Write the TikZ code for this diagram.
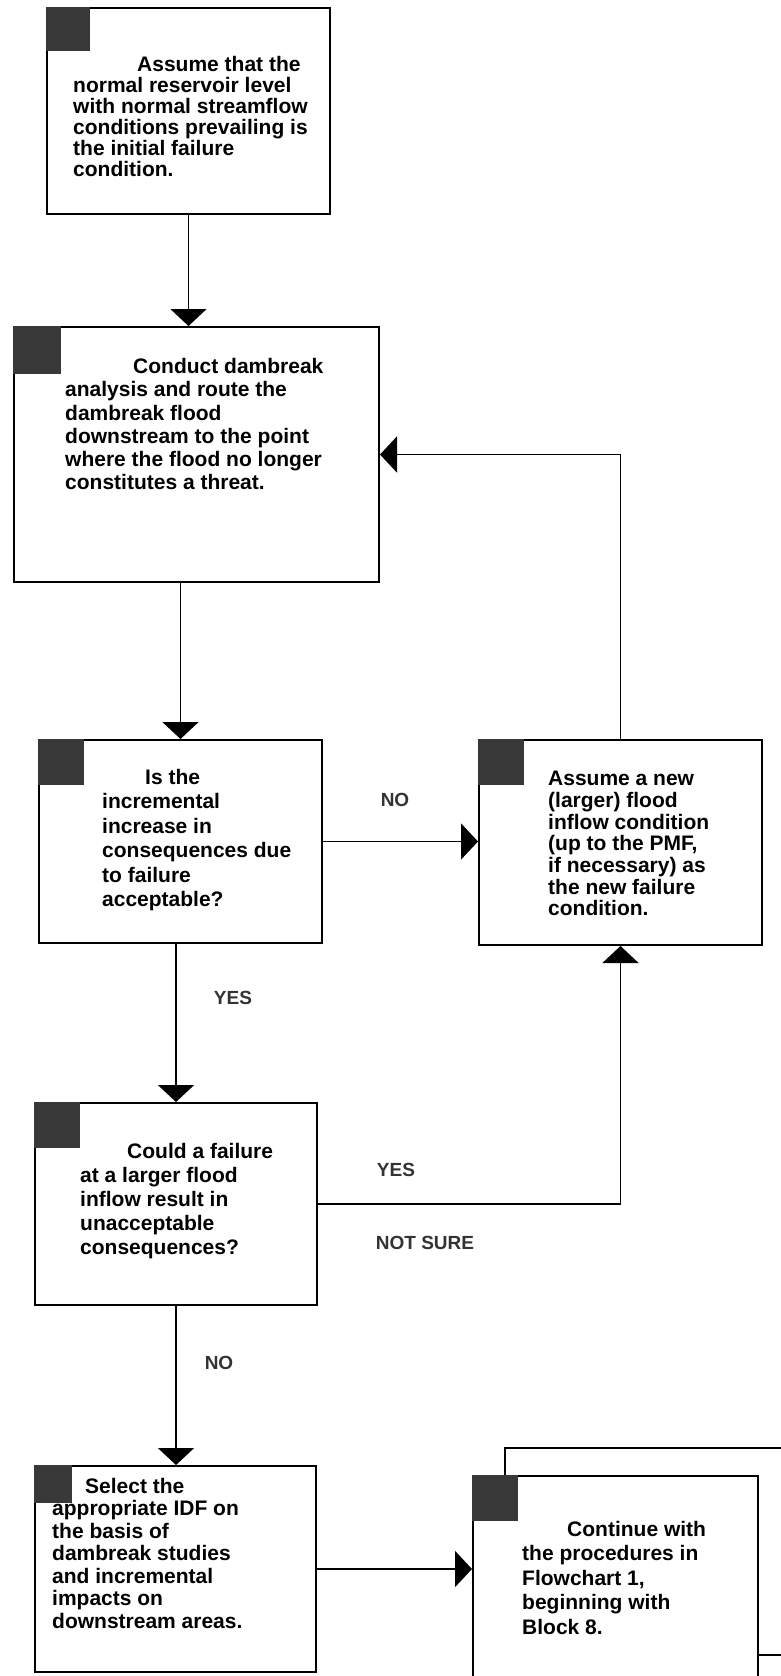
\documentclass[tikz,border=0pt]{standalone}
\usepackage{fontspec}
\setmainfont{Liberation Sans}
\usetikzlibrary{arrows.meta}

\begin{document}
\begin{tikzpicture}[x=1pt, y=-1pt,
		box/.style={draw, line width=2pt, fill=white, inner sep=0pt},
		icon/.style={fill=black!78, inner sep=0pt, minimum size=46pt, anchor=north west},
		txt/.style={anchor=north west, align=left, inner sep=0pt, font=\fontsize{21}{#1}\selectfont\bfseries},
		txt/.default=23,
		lbl/.style={inner sep=0pt, text=black!80, font=\fontsize{19}{22}\selectfont\bfseries},
		arr/.style={line width=1.8pt, -{Triangle[width=36pt, length=17pt]}}]
		\useasboundingbox (0,0) rectangle (781,1676);
		\clip (0,0) rectangle (781,1676);

		\node[box, minimum width=283pt, minimum height=206pt] (b1) at (188.5, 111) {};
		\node[box, minimum width=365pt, minimum height=255pt] (b2) at (196.5, 454.5) {};
		\node[box, minimum width=283pt, minimum height=203pt] (b3) at (180.5, 841.5) {};
		\node[box, minimum width=283pt, minimum height=205pt] (b4) at (620.5, 842.5) {};
		\node[box, minimum width=282pt, minimum height=202pt] (b5) at (176, 1204) {};
		\node[box, minimum width=281pt, minimum height=206pt] (b6) at (175.5, 1569) {};
		\node[box, minimum width=325pt, minimum height=207pt] (b7back) at (667.5, 1551.5) {};
		\node[box, minimum width=285pt, minimum height=244pt] (b7) at (615.5, 1598) {};

		\node[icon, minimum size=44pt] (i1) at (b1.north west) {};
		\node[icon, minimum size=48pt] (i2) at (b2.north west) {};
		\node[icon] (i3) at (b3.north west) {};
		\node[icon] (i4) at (b4.north west) {};
		\node[icon] (i5) at (b5.north west) {};
		\node[icon, minimum size=38pt] (i6) at (b6.north west) {};
		\node[icon] (i7) at (b7.north west) {};

		\node[txt=21] (t1) at (73, 56) {\hspace*{64pt}Assume that the\\normal reservoir level\\with normal streamflow\\conditions prevailing is\\the initial failure\\condition.};
		\node[txt=23.3] (t2) at (65, 358) {\hspace*{68pt}Conduct dambreak\\analysis and route the\\dambreak flood\\downstream to the point\\where the flood no longer\\constitutes a threat.};
		\node[txt=24.5] (t3) at (102, 769) {\hspace*{43pt}Is the\\incremental\\increase in\\consequences due\\to failure\\acceptable?};
		\node[txt=21.7] (t4) at (548, 771) {Assume a new\\(larger) flood\\inflow condition\\(up to the PMF,\\if necessary) as\\the new failure\\condition.};
		\node[txt=24] (t5) at (80, 1143) {\hspace*{47pt}Could a failure\\at a larger flood\\inflow result in\\unacceptable\\consequences?};
		\node[txt=22.5] (t6) at (52, 1478) {\hspace*{33pt}Select the\\appropriate IDF on\\the basis of\\dambreak studies\\and incremental\\impacts on\\downstream areas.};
		\node[txt=24.5] (t7) at (522, 1521) {\hspace*{45pt}Continue with\\the procedures in\\Flowchart 1,\\beginning with\\Block 8.};

		\node[lbl] (no1) at (395, 800) {NO};
		\node[lbl] (yes1) at (233, 998) {YES};
		\node[lbl] (yes2) at (396, 1170) {YES};
		\node[lbl] (notsure) at (425, 1243) {NOT SURE};
		\node[lbl] (no2) at (219, 1363) {NO};

		\draw[arr] (b1.south) -- (b1.south |- b2.north);
		\draw[arr] (b3.north |- b2.south) -- (b3.north);
		\draw[arr] (b3.east) -- (b3.east -| b4.west);
		\draw[arr] (b4.north) |- (b2.east);
		\draw[arr] (b5.north |- b3.south) -- (b5.north);
		\draw[arr] (b5.east) -| (b4.south);
		\draw[arr] (b5.south) -- (b5.south |- b6.north);
		\draw[arr] (b6.east) -- (b6.east -| b7.west);
	\end{tikzpicture}
\end{document}
